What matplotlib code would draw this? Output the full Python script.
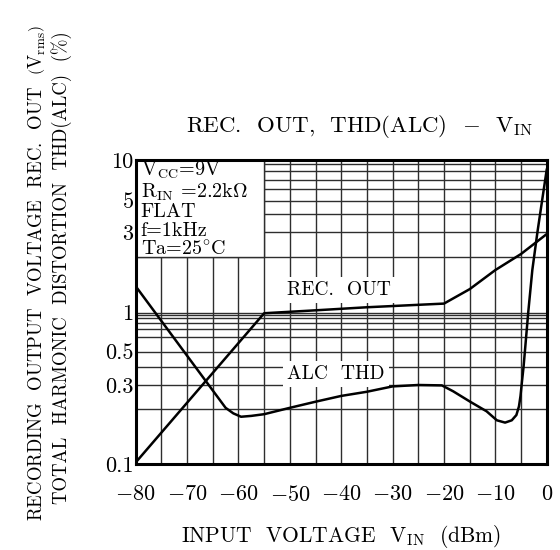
import numpy as np
import matplotlib
matplotlib.use('Agg')
import matplotlib.pyplot as plt
from matplotlib import ticker
from matplotlib.patches import Rectangle

plt.rcParams['font.family'] = 'serif'
plt.rcParams['font.serif'] = ['cmr10']
plt.rcParams['mathtext.fontset'] = 'cm'
plt.rcParams['axes.unicode_minus'] = False

# REC. OUT (Vrms) against input level (dBm)
rec_x = [-80, -55, -45, -35, -20, -15, -10, -5, 0]
rec_y = [0.102, 0.99, 1.03, 1.07, 1.12, 1.34, 1.70, 2.10, 2.90]

# THD(ALC) (%) against input level (dBm)
thd_x = [-80, -62.5, -61, -59.5, -57.5, -55, -50, -45, -40, -35, -30, -25, -20.4, -18.2,
         -14.9, -11.7, -9.7, -8.1, -6.8, -5.9, -5.4, -5.1, -4.8, -4.5, -3.6, -2.8, -1.8,
         -0.9, 0]
thd_y = [1.39, 0.205, 0.19, 0.182, 0.184, 0.188, 0.205, 0.227, 0.25, 0.268, 0.293, 0.30,
         0.298, 0.27, 0.227, 0.195, 0.174, 0.169, 0.174, 0.186, 0.21, 0.25, 0.32, 0.40, 1.0,
         1.7, 3.0, 5.0, 8.2]

x_ticks = [-80, -70, -60, -50, -40, -30, -20, -10, 0]
x_labels = ['$-80$', '$-70$', '$-60$', '$-50$', '$-40$', '$-30$', '$-20$', '$-10$', '$0$']
x_grid = [-75, -70, -65, -60, -55, -50, -45, -40, -35, -30, -25, -20, -15, -10, -5]
y_ticks = [0.1, 0.3, 0.5, 1, 3, 5, 10]
y_labels = ['0.1', '0.3', '0.5', '1', '3', '5', '10']
y_grid = [0.2, 0.3, 0.4, 0.5, 0.6, 0.7, 0.8, 0.9, 0.95, 1, 2, 3, 4, 5, 6, 7, 8, 9]

cond_lines = ['V$_{\\mathrm{CC}}$=9V', 'R$_{\\mathrm{IN}}$ =2.2k$\\Omega$', 'FLAT',
              'f=1kHz', 'Ta=25$^{\\circ}$C']

# the printed log paper is not evenly spaced, so map each line to where it sits
paper_vals = [0.1, 0.2, 0.3, 0.4, 0.5, 0.6, 0.7, 0.8, 0.9, 1, 2, 3, 4, 5, 6, 7, 8, 9, 10]
paper_pos = [0, 0.1799, 0.2599, 0.3201, 0.3694, 0.4168, 0.4431, 0.4648, 0.4793, 0.4977,
             0.6809, 0.7632, 0.8224, 0.8661, 0.9036, 0.9342, 0.9628, 0.9868, 1.0]
log_vals = np.log10(paper_vals)


def fwd(v):
    v = np.clip(np.asarray(v, dtype=float), 1e-6, None)
    return np.interp(np.log10(v), log_vals, paper_pos)


def inv(p):
    return 10 ** np.interp(p, paper_pos, log_vals)


fig = plt.figure(figsize=(5.6, 5.5), dpi=100)
ax = fig.add_axes([135.7 / 560, 86 / 550, 411 / 560, 304 / 550])
ax.set_yscale('function', functions=(fwd, inv))
ax.set_xlim(-80, 0)
ax.set_ylim(0.1, 10)

ax.set_xticks(x_ticks)
ax.set_xticklabels(x_labels)
ax.set_xticks(x_grid, minor=True)
ax.set_yticks(y_ticks)
ax.set_yticklabels(y_labels)
ax.set_yticks(y_grid, minor=True)
ax.yaxis.set_minor_formatter(ticker.NullFormatter())
ax.tick_params(which='both', length=0)
ax.tick_params(axis='x', pad=15, labelsize=16)
ax.tick_params(axis='y', pad=1.5, labelsize=16)
ax.grid(True, which='both', color='#2e2e2e', linewidth=1.0)
ax.set_axisbelow(True)
for sp in ax.spines.values():
    sp.set_linewidth(2.2)

# condition box in the upper left hides the grid behind it
ax.add_patch(Rectangle((-80, 2), 25, 8, facecolor='white', edgecolor='#2e2e2e',
                       linewidth=1.0, zorder=1.5))
ax.text(0.012, 1.0, '\n'.join(cond_lines), transform=ax.transAxes, ha='left', va='top',
        fontsize=14.5, linespacing=1.02, zorder=3)

ax.plot(rec_x, rec_y, color='black', linewidth=1.8, zorder=4)
ax.plot(thd_x, thd_y, color='black', linewidth=1.8, zorder=4)

ax.text(-40.4, 1.33, 'REC.  OUT', ha='center', va='center', fontsize=14, zorder=3,
        bbox=dict(facecolor='white', edgecolor='none', pad=3))
ax.text(-41, 0.355, 'ALC  THD', ha='center', va='center', fontsize=14, zorder=3,
        bbox=dict(facecolor='white', edgecolor='none', pad=3))

ax.set_xlabel('INPUT  VOLTAGE  V$_{\\mathrm{IN}}$  (dBm)', fontsize=15.5, va='center')
ax.xaxis.set_label_coords(0.5, -0.237)

fig.text(37 / 560, 1 - 273 / 550,
         'RECORDING  OUTPUT  VOLTAGE  REC.  OUT  $\\left(\\mathrm{V}_{\\mathrm{rms}}\\right)$',
         rotation=90, ha='center', va='center', fontsize=13.5)
fig.text(62 / 560, 1 - 268 / 550, 'TOTAL  HARMONIC  DISTORTION  THD(ALC)  (%)',
         rotation=90, ha='center', va='center', fontsize=13.5)

fig.text(533 / 560, 1 - 127 / 550, 'REC.  OUT,  THD(ALC)  $-$  V$_{\\mathrm{IN}}$',
         ha='right', va='center', fontsize=16.5)

fig.savefig('out.png', dpi=100)
